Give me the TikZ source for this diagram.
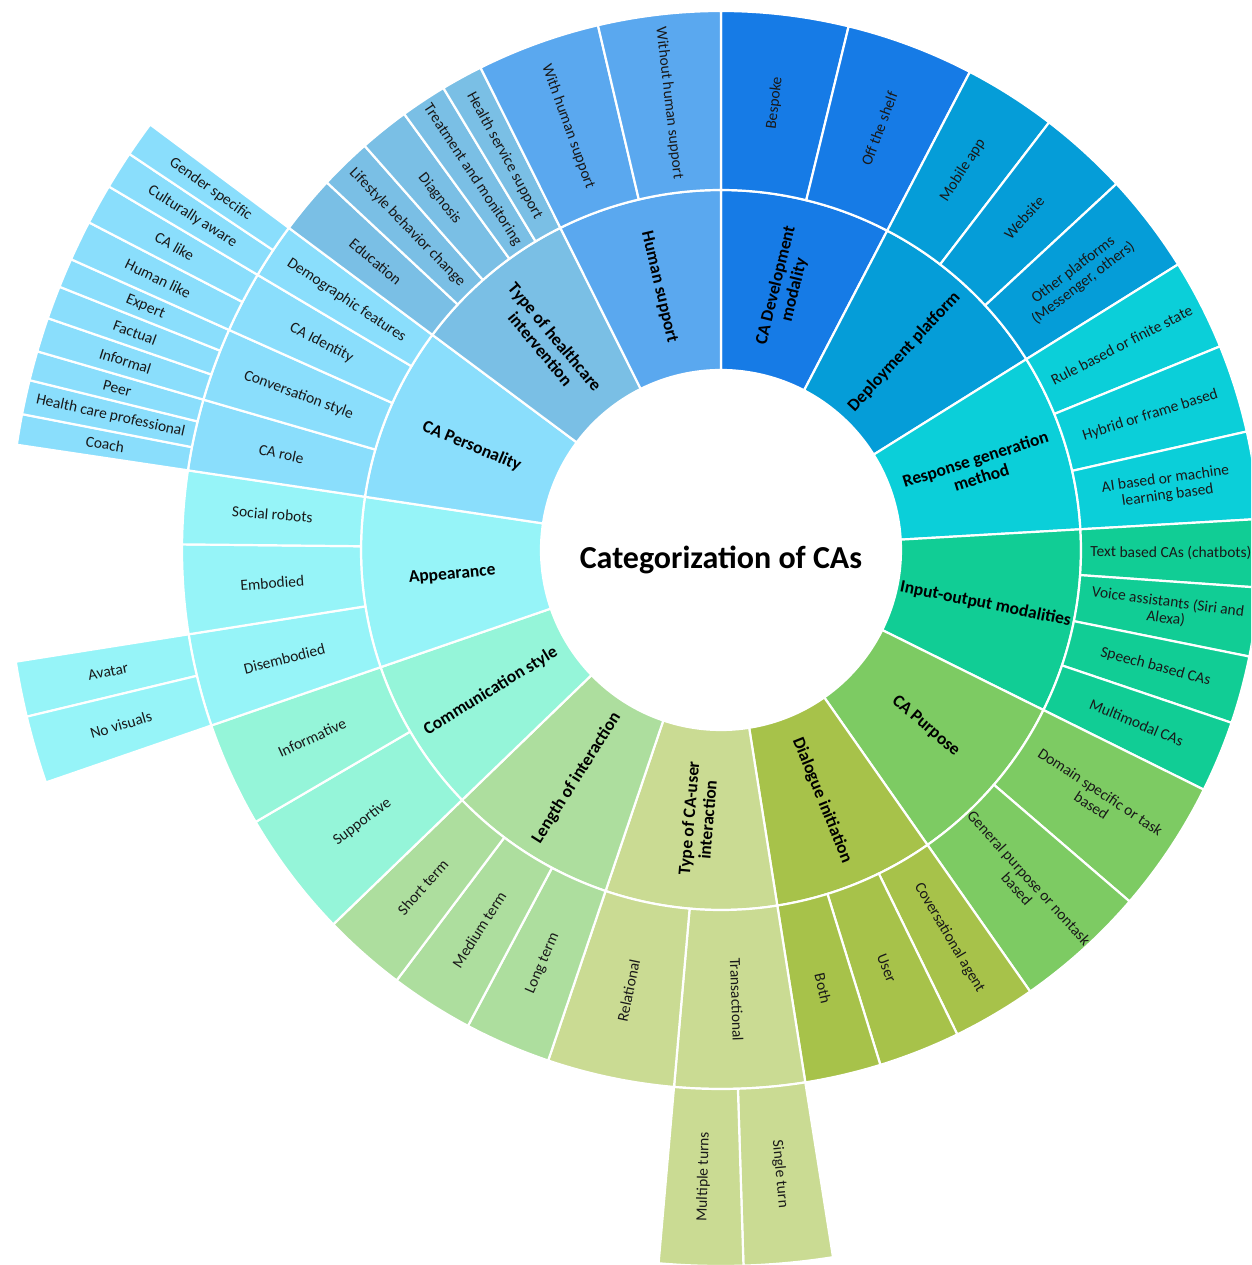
\documentclass[tikz,border=0pt]{standalone}
\usepackage{fontspec}
\setmainfont{Carlito}

% category colours
\definecolor{cdev}{HTML}{167BE6}
\definecolor{cdep}{HTML}{059DD8}
\definecolor{cres}{HTML}{0BCFD9}
\definecolor{cio}{HTML}{11CD95}
\definecolor{cpur}{HTML}{7DCB63}
\definecolor{cdia}{HTML}{A7C24A}
\definecolor{ctyp}{HTML}{CADB93}
\definecolor{clen}{HTML}{ADDE9E}
\definecolor{ccom}{HTML}{95F5D9}
\definecolor{capp}{HTML}{96F4F8}
\definecolor{cper}{HTML}{8ADEFC}
\definecolor{chea}{HTML}{7ABFE5}
\definecolor{chum}{HTML}{5AA8EF}

\tikzset{
  seg/.style={draw=white, line width=2.2pt, line join=round},
  catlabel/.style={font=\bfseries\fontsize{17.5}{19}\selectfont, text=black, align=center, inner sep=0pt},
  sublabel/.style={font=\fontsize{15.5}{16.5}\selectfont, text=black!90, align=center, inner sep=0pt},
  centretitle/.style={font=\bfseries\fontsize{32}{35}\selectfont, text=black, inner sep=0pt}
}

% annular sector: start angle, end angle, inner radius, outer radius, colour
\newcommand\sbsec[5]{\filldraw[seg, fill=#5] (#1:#3pt) arc[start angle=#1, end angle=#2, radius=#3pt] -- (#2:#4pt) arc[start angle=#2, end angle=#1, radius=#4pt] -- cycle;}
% radial label: name, angle, radius, style, text
\newcommand\sblab[5]{\pgfmathsetmacro\sbrot{(#2>90) ? (#2-180) : (#2)}\node[#4, rotate=\sbrot] (#1) at (#2:#3pt) {#5};}

\begin{document}
\begin{tikzpicture}[x=1pt,y=1pt]
\useasboundingbox (-721pt,-715pt) rectangle (530pt,550pt);
\clip (-721pt,-715pt) rectangle (530pt,550pt);

% ---- inner ring: categories ----
\sbsec{62.5}{90}{180}{360}{cdev}
\sbsec{32}{62.5}{180}{360}{cdep}
\sbsec{3.3}{32}{180}{360}{cres}
\sbsec{-26.4}{3.3}{180}{360}{cio}
\sbsec{-55}{-26.4}{180}{360}{cpur}
\sbsec{-81}{-55}{180}{360}{cdia}
\sbsec{251.3}{279}{180}{360}{ctyp}
\sbsec{224}{251.3}{180}{360}{clen}
\sbsec{199}{224}{180}{360}{ccom}
\sbsec{171.5}{199}{180}{360}{capp}
\sbsec{143.3}{171.5}{180}{360}{cper}
\sbsec{116.5}{143.3}{180}{360}{chea}
\sbsec{90}{116.5}{180}{360}{chum}

% ---- middle ring: subcategories ----
\sbsec{76.3}{90}{360}{539}{cdev}
\sbsec{62.5}{76.3}{360}{539}{cdev}
\sbsec{52.5}{62.5}{360}{539}{cdep}
\sbsec{42.8}{52.5}{360}{539}{cdep}
\sbsec{32}{42.8}{360}{539}{cdep}
\sbsec{22.2}{32}{360}{539}{cres}
\sbsec{12.7}{22.2}{360}{539}{cres}
\sbsec{3.3}{12.7}{360}{539}{cres}
\sbsec{-4}{3.3}{360}{539}{cio}
\sbsec{-11.4}{-4}{360}{539}{cio}
\sbsec{-18.7}{-11.4}{360}{539}{cio}
\sbsec{-26.4}{-18.7}{360}{539}{cio}
\sbsec{-40.7}{-26.4}{360}{539}{cpur}
\sbsec{-55}{-40.7}{360}{539}{cpur}
\sbsec{-64}{-55}{360}{539}{cdia}
\sbsec{-72.8}{-64}{360}{539}{cdia}
\sbsec{-81}{-72.8}{360}{539}{cdia}
\sbsec{265}{279}{360}{539}{ctyp}
\sbsec{251.3}{265}{360}{539}{ctyp}
\sbsec{242}{251.3}{360}{539}{clen}
\sbsec{233}{242}{360}{539}{clen}
\sbsec{224}{233}{360}{539}{clen}
\sbsec{210.3}{224}{360}{539}{ccom}
\sbsec{199}{210.3}{360}{539}{ccom}
\sbsec{189}{199}{360}{539}{capp}
\sbsec{179.4}{189}{360}{539}{capp}
\sbsec{171.5}{179.4}{360}{539}{capp}
\sbsec{163.8}{171.5}{360}{539}{cper}
\sbsec{155.9}{163.8}{360}{539}{cper}
\sbsec{149.3}{155.9}{360}{539}{cper}
\sbsec{143.3}{149.3}{360}{539}{cper}
\sbsec{137}{143.3}{360}{539}{chea}
\sbsec{131.4}{137}{360}{539}{chea}
\sbsec{126}{131.4}{360}{539}{chea}
\sbsec{121}{126}{360}{539}{chea}
\sbsec{116.5}{121}{360}{539}{chea}
\sbsec{103.2}{116.5}{360}{539}{chum}
\sbsec{90}{103.2}{360}{539}{chum}

% ---- outer ring: third level ----
\sbsec{271.8}{279}{539}{716}{ctyp}
\sbsec{265}{271.8}{539}{716}{ctyp}
\sbsec{189}{193.5}{539}{714}{capp}
\sbsec{193.5}{199}{539}{714}{capp}
\sbsec{169}{171.5}{539}{712}{cper}
\sbsec{166.2}{169}{539}{712}{cper}
\sbsec{163.8}{166.2}{539}{712}{cper}
\sbsec{161}{163.8}{539}{712}{cper}
\sbsec{158.3}{161}{539}{712}{cper}
\sbsec{155.9}{158.3}{539}{712}{cper}
\sbsec{152.6}{155.9}{539}{712}{cper}
\sbsec{149.3}{152.6}{539}{712}{cper}
\sbsec{146.2}{149.3}{539}{712}{cper}
\sbsec{143.3}{146.2}{539}{712}{cper}

% ---- centre ----
\node[centretitle] (title) at (0pt,-10pt) {Categorization of CAs};

% ---- category labels ----
\sblab{cadev}{76.25}{270}{catlabel}{CA Development\\modality}
\sblab{deploy}{47.25}{270}{catlabel}{Deployment platform}
\sblab{respgen}{17.65}{270}{catlabel}{Response generation\\method}
\sblab{iomod}{-11.55}{270}{catlabel}{Input-output modalities}
\sblab{purpose}{-40.7}{270}{catlabel}{CA Purpose}
\sblab{dialog}{-68}{270}{catlabel}{Dialogue initiation}
\sblab{causer}{265.15}{270}{catlabel}{Type of CA-user\\interaction}
\sblab{length}{237.65}{270}{catlabel}{Length of interaction}
\sblab{commstyle}{211.5}{270}{catlabel}{Communication style}
\sblab{appear}{185.25}{270}{catlabel}{Appearance}
\sblab{persona}{157.4}{270}{catlabel}{CA Personality}
\sblab{health}{129.9}{270}{catlabel}{Type of healthcare\\intervention}
\sblab{human}{103.25}{270}{catlabel}{Human support}

% ---- subcategory labels ----
\sblab{bespoke}{83.15}{450}{sublabel}{Bespoke}
\sblab{offshelf}{69.4}{450}{sublabel}{Off the shelf}
\sblab{mobile}{57.5}{450}{sublabel}{Mobile app}
\sblab{website}{47.65}{450}{sublabel}{Website}
\sblab{otherplat}{37.4}{450}{sublabel}{Other platforms\\(Messenger, others)}
\sblab{rulebased}{27.1}{450}{sublabel}{Rule based or finite state}
\sblab{hybrid}{17.45}{450}{sublabel}{Hybrid or frame based}
\sblab{aibased}{8.0}{450}{sublabel}{AI based or machine\\learning based}
\sblab{textcas}{-0.35}{450}{sublabel}{Text based CAs (chatbots)}
\sblab{voice}{-7.7}{450}{sublabel}{Voice assistants (Siri and\\Alexa)}
\sblab{speech}{-15.05}{450}{sublabel}{Speech based CAs}
\sblab{multimodal}{-22.55}{450}{sublabel}{Multimodal CAs}
\sblab{domain}{-33.55}{450}{sublabel}{Domain specific or task\\based}
\sblab{general}{-47.85}{450}{sublabel}{General purpose or nontask\\based}
\sblab{convagent}{-59.5}{450}{sublabel}{Coversational agent}
\sblab{user}{-68.4}{450}{sublabel}{User}
\sblab{both}{-76.9}{450}{sublabel}{Both}
\sblab{transact}{-88}{450}{sublabel}{Transactional}
\sblab{relational}{258.15}{450}{sublabel}{Relational}
\sblab{longterm}{246.65}{450}{sublabel}{Long term}
\sblab{medterm}{237.5}{450}{sublabel}{Medium term}
\sblab{shortterm}{228.5}{450}{sublabel}{Short term}
\sblab{supportive}{217.15}{450}{sublabel}{Supportive}
\sblab{informative}{204.65}{450}{sublabel}{Informative}
\sblab{disembodied}{194}{450}{sublabel}{Disembodied}
\sblab{embodied}{184.2}{450}{sublabel}{Embodied}
\sblab{socialrobots}{175.45}{450}{sublabel}{Social robots}
\sblab{carole}{167.65}{450}{sublabel}{CA role}
\sblab{convstyle}{159.85}{450}{sublabel}{Conversation style}
\sblab{caidentity}{152.6}{450}{sublabel}{CA Identity}
\sblab{demographic}{146.3}{450}{sublabel}{Demographic features}
\sblab{education}{140.15}{450}{sublabel}{Education}
\sblab{lifestyle}{134.2}{450}{sublabel}{Lifestyle behavior change}
\sblab{diagnosis}{128.7}{450}{sublabel}{Diagnosis}
\sblab{treatment}{123.5}{450}{sublabel}{Treatment and monitoring}
\sblab{healthserv}{118.75}{450}{sublabel}{Health service support}
\sblab{withhuman}{109.85}{450}{sublabel}{With human support}
\sblab{withouthuman}{96.6}{450}{sublabel}{Without human support}

% ---- third-level labels ----
\sblab{singleturn}{-84.6}{627}{sublabel}{Single turn}
\sblab{multiturns}{268.4}{627}{sublabel}{Multiple turns}
\sblab{avatar}{191.25}{625}{sublabel}{Avatar}
\sblab{novisuals}{196.25}{625}{sublabel}{No visuals}
\sblab{coach}{170.25}{625}{sublabel}{Coach}
\sblab{hcp}{167.6}{625}{sublabel}{Health care professional}
\sblab{peer}{165}{625}{sublabel}{Peer}
\sblab{informal}{162.4}{625}{sublabel}{Informal}
\sblab{factual}{159.65}{625}{sublabel}{Factual}
\sblab{expert}{157.1}{625}{sublabel}{Expert}
\sblab{humanlike}{154.25}{625}{sublabel}{Human like}
\sblab{calike}{150.95}{625}{sublabel}{CA like}
\sblab{cultural}{147.75}{625}{sublabel}{Culturally aware}
\sblab{gender}{144.75}{625}{sublabel}{Gender specific}
\end{tikzpicture}
\end{document}
